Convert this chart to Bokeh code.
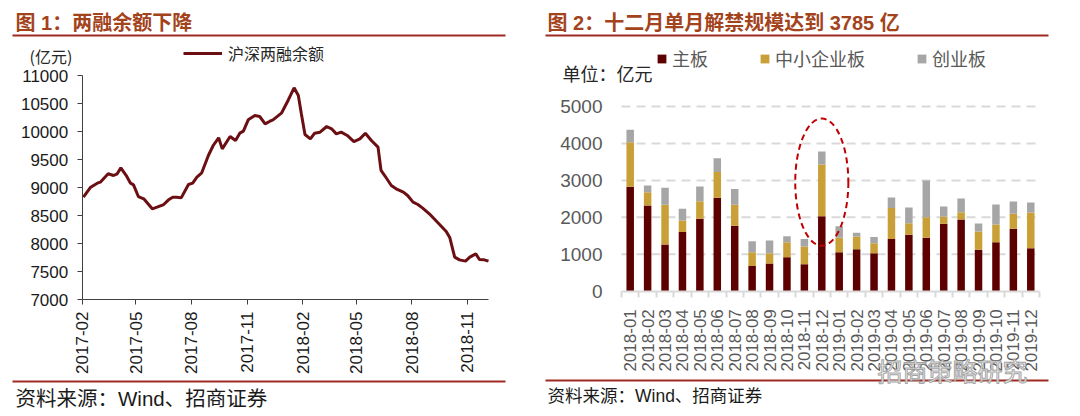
import math
from datetime import datetime
from bokeh.plotting import figure
from bokeh.layouts import row
from bokeh.models import (Range1d, FixedTicker, DatetimeTickFormatter, CustomJSTickFormatter,
                          Label, BoxAnnotation, Legend, LegendItem, ColumnDataSource)
from bokeh.embed import file_html
from bokeh.resources import INLINE

# ---------------- Chart 1 data: 沪深两融余额 (亿元) ----------------
margin_dates = [
    "2017-02-03", "2017-02-15", "2017-02-26", "2017-03-03", "2017-03-16", "2017-03-25", "2017-03-31",
    "2017-04-06", "2017-04-15", "2017-04-22", "2017-04-27", "2017-05-05", "2017-05-14", "2017-05-28",
    "2017-06-05", "2017-06-16", "2017-06-24", "2017-07-01", "2017-07-08", "2017-07-15", "2017-07-27",
    "2017-08-03", "2017-08-10", "2017-08-18", "2017-08-29", "2017-09-06", "2017-09-15", "2017-09-21",
    "2017-10-04", "2017-10-13", "2017-10-20", "2017-10-26", "2017-11-03", "2017-11-14", "2017-11-22",
    "2017-12-01", "2017-12-09", "2017-12-14", "2017-12-28", "2018-01-08", "2018-01-18", "2018-01-25",
    "2018-01-30", "2018-02-05", "2018-02-14", "2018-02-21", "2018-03-02", "2018-03-13", "2018-03-21",
    "2018-03-29", "2018-04-06", "2018-04-16", "2018-04-27", "2018-05-07", "2018-05-16", "2018-05-26",
    "2018-06-06", "2018-06-11", "2018-06-17", "2018-06-28", "2018-07-06", "2018-07-18", "2018-07-25",
    "2018-08-03", "2018-08-11", "2018-08-19", "2018-08-30", "2018-09-16", "2018-09-27", "2018-10-03",
    "2018-10-11", "2018-10-19", "2018-10-29", "2018-11-05", "2018-11-15", "2018-11-21", "2018-11-29",
    "2018-12-06",
]
margin_balance = [
    8827, 9005, 9077, 9095, 9245, 9214, 9245, 9351, 9214, 9077,
    9048, 8839, 8798, 8619, 8649, 8696, 8780, 8827, 8827, 8815,
    9054, 9077, 9185, 9262, 9571, 9750, 9887, 9690, 9911, 9839,
    9970, 10006, 10208, 10286, 10268, 10137, 10184, 10208, 10327, 10554,
    10780, 10643, 10315, 9946, 9869, 9970, 9988, 10089, 10048, 9958,
    9988, 9929, 9821, 9869, 9970, 9839, 9720, 9304, 9214, 9036,
    8976, 8917, 8857, 8738, 8696, 8631, 8530, 8339, 8214, 8101,
    7756, 7708, 7685, 7756, 7815, 7714, 7708, 7685,
]
margin_tick_months = ["2017-02", "2017-05", "2017-08", "2017-11", "2018-02", "2018-05", "2018-08", "2018-11"]
margin_y_ticks = [7000, 7500, 8000, 8500, 9000, 9500, 10000, 10500, 11000]
margin_x_start = "2017-02-01"
margin_x_end = "2018-12-06"

# ---------------- Chart 2 data: 单月解禁规模 (亿元) ----------------
months = ["2018-01", "2018-02", "2018-03", "2018-04", "2018-05", "2018-06", "2018-07", "2018-08",
          "2018-09", "2018-10", "2018-11", "2018-12", "2019-01", "2019-02", "2019-03", "2019-04",
          "2019-05", "2019-06", "2019-07", "2019-08", "2019-09", "2019-10", "2019-11", "2019-12"]
main_board = [2830, 2320, 1265, 1600, 1960, 2530, 1770, 680, 750, 920, 730, 2030,
              1055, 1135, 1030, 1415, 1525, 1445, 1825, 1940, 1120, 1325, 1690, 1165]
sme_board = [1205, 360, 1075, 315, 475, 695, 570, 375, 280, 405, 480, 1400,
             390, 345, 270, 840, 315, 560, 195, 200, 495, 480, 405, 965]
chinext_board = [335, 180, 460, 315, 400, 375, 430, 300, 340, 165, 200, 355,
                 315, 100, 170, 280, 425, 990, 275, 370, 215, 540, 335, 270]
series_names = ["主板", "中小企业板", "创业板"]
bar_y_ticks = [0, 1000, 2000, 3000, 4000, 5000]
highlight_month = "2018-12"

# ---------------- styling / layout ----------------
W, H = 540, 416
CJK = "Noto Sans CJK SC"
MIXED = "Liberation Sans, Noto Sans CJK SC"
NUM = "Liberation Sans"
TITLE_COLOR = "#A3431C"
RULE_COLOR = "#9E2A22"
LINE_COLOR = "#6B0F12"
BAR_COLORS = ["#5C0000", "#C9A037", "#A6A6A6"]


def to_ms(s, fmt):
    return (datetime.strptime(s, fmt) - datetime(1970, 1, 1)).total_seconds() * 1000.0


def extend(v0, p0, v1, p1, p_lo, p_hi):
    k = (v1 - v0) / (p1 - p0)
    return v0 + (p_lo - p0) * k, v0 + (p_hi - p0) * k


def make_fig(x_range, y_range, x_axis_type="linear"):
    p = figure(width=W, height=H, x_range=x_range, y_range=y_range, x_axis_type=x_axis_type,
               output_backend="svg", toolbar_location=None,
               min_border=0, min_border_left=0, min_border_right=0, min_border_top=0, min_border_bottom=0)
    p.outline_line_color = None
    p.background_fill_color = "white"
    p.border_fill_color = "white"
    p.xgrid.visible = False
    p.ygrid.visible = False
    return p


def add_text(p, cx, cy, text, size, color, font=CJK, style="normal", align="left", **kw):
    p.add_layout(Label(x=cx, y=H - cy, x_units="screen", y_units="screen", text=text,
                       text_font=font, text_font_size=f"{size}px", text_color=color,
                       text_font_style=style, text_align=align, text_baseline="middle", **kw))


def add_rule(p, x0, x1, cy, thick=2, color=RULE_COLOR):
    p.add_layout(BoxAnnotation(left=x0, right=x1, bottom=H - cy - thick / 2, top=H - cy + thick / 2,
                               left_units="screen", right_units="screen", top_units="screen", bottom_units="screen",
                               fill_color=color, fill_alpha=1, line_color=None, line_alpha=0))


# ================= Figure 1 =================
d0, d1 = to_ms(margin_x_start, "%Y-%m-%d"), to_ms(margin_x_end, "%Y-%m-%d")
xr1 = extend(d0, 81.7, d1, 488, 0, W)
yr1 = extend(margin_y_ticks[0], 299, margin_y_ticks[-1], 75, H, 0)
p1 = make_fig(Range1d(*xr1), Range1d(*yr1), "datetime")
dates = [datetime.strptime(d, "%Y-%m-%d") for d in margin_dates]
r1 = p1.line(dates, margin_balance, line_color=LINE_COLOR, line_width=3)

xa1, ya1 = p1.xaxis[0], p1.yaxis[0]
xa1.fixed_location = margin_y_ticks[0]
xa1.bounds = (d0, d1)
ya1.fixed_location = d0
ya1.bounds = (margin_y_ticks[0], margin_y_ticks[-1])
xa1.ticker = FixedTicker(ticks=[to_ms(m, "%Y-%m") for m in margin_tick_months], minor_ticks=[])
fmt = "%Y-%m"
xa1.formatter = DatetimeTickFormatter(milliseconds=fmt, seconds=fmt, minsec=fmt, minutes=fmt, hourmin=fmt,
                                      hours=fmt, days=fmt, months=fmt, years=fmt)
xa1.major_label_orientation = math.pi / 2
ya1.ticker = FixedTicker(ticks=margin_y_ticks, minor_ticks=[])
for ax in (xa1, ya1):
    ax.axis_line_color = "#404040"
    ax.axis_line_width = 1
    ax.major_tick_line_color = "#404040"
    ax.major_tick_out = 5
    ax.major_tick_in = 0
    ax.minor_tick_line_color = None
    ax.major_label_text_font = NUM
    ax.major_label_text_font_size = "17px"
    ax.major_label_text_color = "#1A1A1A"
ya1.major_label_standoff = 9
xa1.major_label_standoff = 7

leg1 = Legend(items=[LegendItem(label="沪深两融余额", renderers=[r1])], location=(183, H - 65),
              orientation="horizontal", padding=0, margin=0, spacing=0,
              glyph_width=39, glyph_height=20, label_height=20, label_standoff=6,
              label_text_font=CJK, label_text_font_size="16px", label_text_color="#262626",
              border_line_color=None, background_fill_alpha=0)
p1.add_layout(leg1)

add_text(p1, 15, 22, "图 1：两融余额下降", 20, TITLE_COLOR, font=MIXED, style="bold")
add_rule(p1, 12, 505, 35)
add_text(p1, 29, 55, "(亿元)", 16, "#262626")
add_rule(p1, 12, 505, 381)
add_text(p1, 15, 398, "资料来源：Wind、招商证券", 20.5, "#1A1A1A", font=MIXED)

# ================= Figure 2 =================
n = len(months)
xr2 = extend(0, 81, n, 499, 0, W)
yr2 = extend(bar_y_ticks[0], 290.7, bar_y_ticks[-1], 106, H, 0)
p2 = make_fig(Range1d(*xr2), Range1d(*yr2))
xc = [i + 0.5 for i in range(n)]

# dashed horizontal gridlines over the plot area
p2.segment(x0=[0] * len(bar_y_ticks[1:]), x1=[n] * len(bar_y_ticks[1:]), y0=bar_y_ticks[1:], y1=bar_y_ticks[1:],
           line_color="#D9D9D9", line_dash="9 6", line_width=2)

src = ColumnDataSource(dict(x=xc, main=main_board, sme=sme_board, gem=chinext_board, month=months))
rs = p2.vbar_stack(["main", "sme", "gem"], x="x", width=0.43, fill_color=BAR_COLORS,
                   line_color=None, source=src)

hi = months.index(highlight_month)
total_hi = main_board[hi] + sme_board[hi] + chinext_board[hi]
p2.ellipse(x=[xc[hi]], y=[total_hi * 0.78], width=3.05, height=total_hi * 0.91,
           fill_color=None, line_color="#C00000", line_dash="6 4", line_width=2)

xa2, ya2 = p2.xaxis[0], p2.yaxis[0]
xa2.fixed_location = 0
xa2.bounds = (0, n)
ya2.fixed_location = 0
ya2.bounds = (bar_y_ticks[0], bar_y_ticks[-1])

ya2.ticker = FixedTicker(ticks=bar_y_ticks, minor_ticks=[])
ya2.axis_line_color = None
ya2.major_tick_line_color = None
ya2.minor_tick_line_color = None
ya2.major_tick_out = 0
ya2.major_tick_in = 0
ya2.major_label_standoff = 19
ya2.major_label_text_font = NUM
ya2.major_label_text_font_size = "19px"
ya2.major_label_text_color = "#595959"

xa2.ticker = FixedTicker(ticks=xc, minor_ticks=list(range(n + 1)))
xa2.formatter = CustomJSTickFormatter(args=dict(labels=months),
                                      code="const i = Math.floor(tick); return (i >= 0 && i < labels.length) ? labels[i] : '';")
xa2.axis_line_color = "#D9D9D9"
xa2.axis_line_width = 2
xa2.major_tick_line_color = None
xa2.major_tick_out = 0
xa2.major_tick_in = 0
xa2.minor_tick_line_color = "#D9D9D9"
xa2.minor_tick_line_width = 2
xa2.minor_tick_out = 6
xa2.minor_tick_in = 0
xa2.major_label_orientation = math.pi / 2
xa2.major_label_standoff = 12
xa2.major_label_text_font = NUM
xa2.major_label_text_font_size = "17px"
xa2.major_label_text_color = "#595959"

leg2 = Legend(items=[LegendItem(label=nm, renderers=[r]) for nm, r in zip(series_names, rs)],
              location=(116, H - 71), orientation="horizontal", padding=0, margin=0, spacing=51,
              glyph_width=11, glyph_height=11, label_height=22, label_standoff=5,
              label_text_font=CJK, label_text_font_size="18px", label_text_color="#595959",
              border_line_color=None, background_fill_alpha=0)
p2.add_layout(leg2)

add_text(p2, 7, 22, "图 2：十二月单月解禁规模达到 3785 亿", 20, TITLE_COLOR, font=MIXED, style="bold")
add_rule(p2, 5, 508, 35)
add_text(p2, 22, 72, "单位：亿元", 18, "#262626")
add_rule(p2, 5, 508, 380)
add_text(p2, 7, 395, "资料来源：Wind、招商证券", 17.5, "#1A1A1A", font=MIXED)
add_text(p2, 337, 369, "招商策略研究", 25, "#F4F4F4", text_outline_color="#9A9A9A", text_alpha=0.9)

layout = row(p1, p2)
open("out.html", "w").write(file_html(layout, INLINE))
